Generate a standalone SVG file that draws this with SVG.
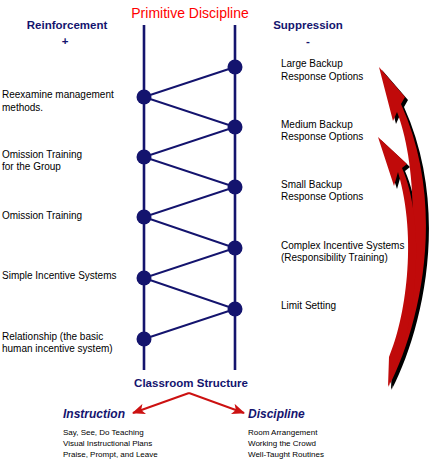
<svg xmlns="http://www.w3.org/2000/svg" width="430" height="472" viewBox="0 0 430 472">
<defs>
<style>
.t{font-family:"Liberation Sans",Arial,sans-serif;font-size:10px;fill:#000}
.s{font-family:"Liberation Sans",Arial,sans-serif;font-size:8px;fill:#000}
.h{font-family:"Liberation Sans",Arial,sans-serif;font-size:11.5px;font-weight:bold;fill:#14146e}
.hi{font-family:"Liberation Sans",Arial,sans-serif;font-size:12px;font-weight:bold;font-style:italic;fill:#14146e}
.vl{stroke:#14146e;stroke-width:2.6;fill:none}
.zz{stroke:#14146e;stroke-width:2;fill:none}
.nd{fill:#14146e}
.ra{stroke:#cc1111;stroke-width:2;fill:none;marker-end:url(#ah)}
</style>
<marker id="ah" viewBox="0 0 12 10" refX="11" refY="5" markerWidth="13" markerHeight="11" markerUnits="userSpaceOnUse" orient="auto">
<path d="M0,0 L12,5 L0,10 L3,5 Z" fill="#cc1111"/>
</marker>
<path id="a1" d="M389,386 C418,330 449,210 401,104 L405,97 L379,67 L393,121 L397,112 C412,150 422,230 400,330 Z"/>
<path id="a2" d="M398,172 L394,186 L378,137 L407,164 L402,168 C425,220 420,320 388,387 L389,357 C405,320 418,240 398,172 Z"/>
</defs>
<rect width="430" height="472" fill="#fff"/>
<text x="190" y="18" text-anchor="middle" font-family="Liberation Sans,Arial,sans-serif" font-size="14" fill="#ff0000">Primitive Discipline</text>
<text class="h" x="67" y="29" text-anchor="middle">Reinforcement</text>
<text class="h" x="65" y="45" text-anchor="middle">+</text>
<text class="h" x="308" y="29" text-anchor="middle">Suppression</text>
<text class="h" x="308" y="45" text-anchor="middle">-</text>
<g id="connectors">
<line class="vl" x1="144" y1="25" x2="144" y2="370"/>
<line class="vl" x1="235" y1="25" x2="235" y2="370"/>
<polyline class="zz" points="235,67 144,97 235,127 144,157 235,187 144,217 235,248 144,278 235,309 144,339"/>
<line class="ra" x1="189" y1="393" x2="133" y2="413"/>
<line class="ra" x1="189" y1="393" x2="244" y2="413"/>
</g>
<g id="n-large"><circle class="nd" cx="235" cy="67" r="7.5"/><text class="t" x="281" y="67">Large Backup</text><text class="t" x="281" y="80">Response Options</text></g>
<g id="n-medium"><circle class="nd" cx="235" cy="127" r="7.5"/><text class="t" x="281" y="128">Medium Backup</text><text class="t" x="281" y="140">Response Options</text></g>
<g id="n-small"><circle class="nd" cx="235" cy="187" r="7.5"/><text class="t" x="281" y="188">Small Backup</text><text class="t" x="281" y="200">Response Options</text></g>
<g id="n-complex"><circle class="nd" cx="235" cy="248" r="7.5"/><text class="t" x="281" y="249">Complex Incentive Systems</text><text class="t" x="281" y="261">(Responsibility Training)</text></g>
<g id="n-limit"><circle class="nd" cx="235" cy="309" r="7.5"/><text class="t" x="281" y="309">Limit Setting</text></g>
<g id="n-reexamine"><circle class="nd" cx="144" cy="97" r="7.5"/><text class="t" x="2" y="98">Reexamine management</text><text class="t" x="2" y="111">methods.</text></g>
<g id="n-omission-group"><circle class="nd" cx="144" cy="157" r="7.5"/><text class="t" x="2" y="158">Omission Training</text><text class="t" x="2" y="170">for the Group</text></g>
<g id="n-omission"><circle class="nd" cx="144" cy="217" r="7.5"/><text class="t" x="2" y="219">Omission Training</text></g>
<g id="n-simple"><circle class="nd" cx="144" cy="278" r="7.5"/><text class="t" x="2" y="279">Simple Incentive Systems</text></g>
<g id="n-relationship"><circle class="nd" cx="144" cy="339" r="7.5"/><text class="t" x="2" y="340">Relationship (the basic</text><text class="t" x="2" y="352">human incentive system)</text></g>
<g id="n-classroom"><text class="h" x="191" y="387" text-anchor="middle" font-size="12">Classroom Structure</text></g>
<g id="n-instruction"><text class="hi" x="63" y="418">Instruction</text>
<text class="s" x="63" y="435">Say, See, Do Teaching</text>
<text class="s" x="63" y="446">Visual Instructional Plans</text>
<text class="s" x="63" y="457">Praise, Prompt, and Leave</text></g>
<g id="n-discipline"><text class="hi" x="248" y="418">Discipline</text>
<text class="s" x="248" y="435">Room Arrangement</text>
<text class="s" x="248" y="446">Working the Crowd</text>
<text class="s" x="248" y="457">Well-Taught Routines</text></g>
<g id="curved-arrows">
<use href="#a1" transform="translate(3,3)" fill="#000"/>
<use href="#a2" transform="translate(3,3)" fill="#000"/>
<use href="#a1" fill="#c00a0a"/>
<use href="#a2" fill="#c00a0a"/>
</g>
</svg>
